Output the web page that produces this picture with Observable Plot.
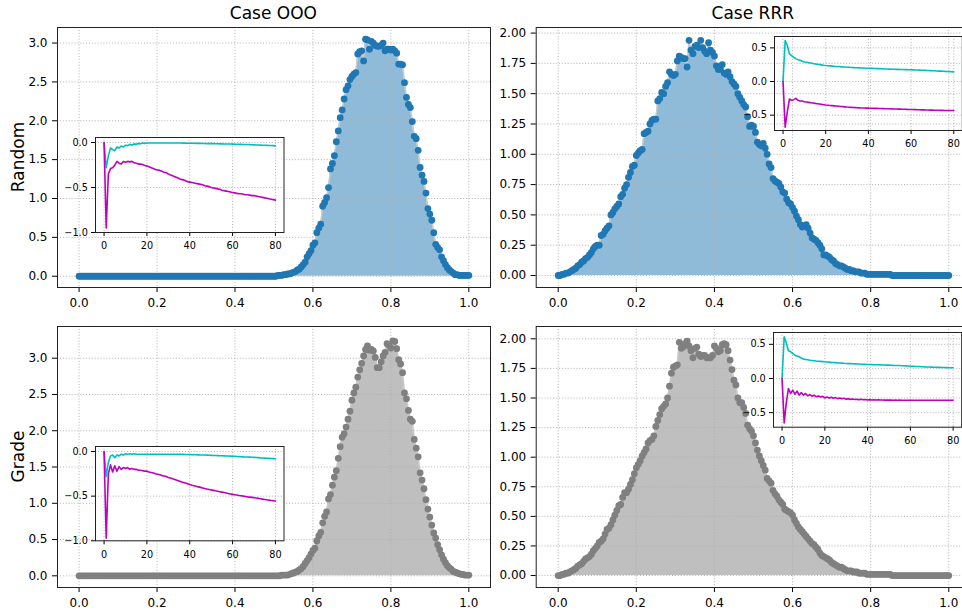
<!DOCTYPE html>
<html><head><meta charset="utf-8">
<script src="https://cdn.jsdelivr.net/npm/d3@7"></script>
<script src="https://cdn.jsdelivr.net/npm/@observablehq/plot@0.6"></script>
<style>
html,body{margin:0;padding:0;background:#fff;overflow:hidden;width:962px;height:613px}
#c{position:relative;width:962px;height:613px;overflow:hidden;font-family:"DejaVu Sans"}
.p{position:absolute}
</style>
</head><body><div id="c"></div>
<script>
// ---- data ----
const colTitles = ["Case OOO", "Case RRR"];
const rowTitles = ["Random", "Grade"];
const xTicks = [0, 0.2, 0.4, 0.6, 0.8, 1.0];
const yTicksOOO = [0, 0.5, 1.0, 1.5, 2.0, 2.5, 3.0];
const yTicksRRR = [0, 0.25, 0.5, 0.75, 1.0, 1.25, 1.5, 1.75, 2.0];
const insetXTicks = [0, 20, 40, 60, 80];
const insetYTicksLeft = [0, -0.5, -1.0];
const insetYTicksRight = [0.5, 0, -0.5];

// sample positions 0, 0.005, ..., 1 (201 samples)
const xGrid = d3.range(201).map(i => i / 200);
// step index 0..80 for insets
const tGrid = d3.range(81);

const randomOOO = [
0,0,0,0,0,0,0,0,0,0, 0,0,0,0,0,0,0,0,0,0, 0,0,0,0,0,0,0,0,0,0, 0,0,0,0,0,0,0,0,0,0, 0,0,0,0,0,0,0,0,0,0,
0,0,0,0,0,0,0,0,0,0, 0,0,0,0,0,0,0,0,0,0, 0,0,0,0,0,0,0,0,0,0, 0,0,0,0,0,0,0,0,0,0, 0,0,0,0,0,0,0,0,0,0,
0.00,0.00,0.01,0.01,0.01,0.02,0.02,0.03,0.03,0.04,
0.05,0.06,0.08,0.09,0.12,0.15,0.18,0.25,0.29,0.33,
0.40,0.43,0.56,0.62,0.67,0.90,0.95,1.01,1.14,1.38,
1.45,1.55,1.73,1.87,2.04,2.14,2.28,2.40,2.45,2.53,
2.57,2.60,2.62,2.86,2.89,2.90,2.77,3.05,3.04,2.92,
3.02,3.00,2.97,2.96,2.96,2.97,3.00,2.90,2.92,2.92,
2.91,2.92,2.90,2.87,2.73,2.73,2.72,2.49,2.30,2.21,
2.17,1.99,1.80,1.77,1.62,1.40,1.30,1.22,1.07,0.87,
0.80,0.72,0.56,0.41,0.37,0.34,0.25,0.20,0.15,0.11,
0.08,0.06,0.04,0.02,0.02,0.01,0.01,0.01,0.01,0.01,
0.01];

const gradeOOO = [
0,0,0,0,0,0,0,0,0,0, 0,0,0,0,0,0,0,0,0,0, 0,0,0,0,0,0,0,0,0,0, 0,0,0,0,0,0,0,0,0,0, 0,0,0,0,0,0,0,0,0,0,
0,0,0,0,0,0,0,0,0,0, 0,0,0,0,0,0,0,0,0,0, 0,0,0,0,0,0,0,0,0,0, 0,0,0,0,0,0,0,0,0,0, 0,0,0,0,0,0,0,0,0,0,
0.00,0.00,0.00,0.00,0.01,0.01,0.01,0.01,0.02,0.03,
0.04,0.05,0.06,0.08,0.10,0.13,0.17,0.21,0.25,0.30,
0.35,0.38,0.48,0.55,0.60,0.73,0.82,0.88,1.06,1.12,
1.25,1.36,1.45,1.62,1.78,1.91,1.96,2.05,2.16,2.27,
2.42,2.52,2.60,2.74,2.84,2.93,3.03,3.12,3.17,3.11,
3.12,3.10,3.01,2.87,2.87,2.95,3.03,3.08,3.20,3.18,
3.14,3.24,3.23,3.13,2.98,2.92,2.80,2.52,2.44,2.28,
2.16,2.13,1.88,1.76,1.64,1.42,1.32,1.20,1.05,0.92,
0.81,0.70,0.59,0.52,0.43,0.36,0.29,0.23,0.18,0.14,
0.11,0.09,0.06,0.05,0.04,0.03,0.02,0.02,0.01,0.01,
0.01];

const randomRRR = [
0.00,0.00,0.01,0.01,0.02,0.02,0.03,0.04,0.05,0.06,
0.08,0.09,0.11,0.12,0.14,0.15,0.17,0.19,0.22,0.24,
0.25,0.25,0.33,0.34,0.37,0.39,0.41,0.50,0.52,0.55,
0.57,0.59,0.65,0.67,0.72,0.75,0.81,0.85,0.90,0.91,
0.99,1.01,1.03,1.04,1.17,1.18,1.19,1.25,1.28,1.29,
1.29,1.44,1.46,1.51,1.50,1.56,1.59,1.68,1.66,1.65,
1.66,1.77,1.81,1.80,1.79,1.79,1.72,1.94,1.86,1.83,
1.89,1.90,1.88,1.94,1.88,1.85,1.83,1.92,1.86,1.84,
1.81,1.73,1.70,1.70,1.74,1.67,1.66,1.68,1.64,1.60,
1.58,1.56,1.50,1.47,1.44,1.41,1.39,1.31,1.23,1.24,
1.23,1.18,1.10,1.08,1.07,1.09,1.05,1.00,0.92,0.89,
0.80,0.78,0.77,0.76,0.73,0.69,0.68,0.63,0.60,0.59,
0.56,0.53,0.49,0.46,0.42,0.40,0.41,0.42,0.39,0.35,
0.31,0.30,0.29,0.27,0.25,0.22,0.17,0.17,0.16,0.15,
0.13,0.12,0.10,0.09,0.08,0.08,0.07,0.06,0.05,0.05,
0.04,0.04,0.03,0.03,0.03,0.02,0.02,0.02,0.01,0.01,
0.01,0.01,0.01,0.01,0.01,0.01,0.01,0.01,0.01,0.01,
0.01,0,0,0,0,0,0,0,0,0,
0,0,0,0,0,0,0,0,0,0,
0,0,0,0,0,0,0,0,0,0,
0];

const gradeRRR = [
0.00,0.00,0.01,0.01,0.02,0.02,0.03,0.04,0.05,0.06,
0.08,0.09,0.10,0.12,0.14,0.15,0.16,0.18,0.21,0.23,
0.25,0.28,0.29,0.31,0.35,0.39,0.40,0.43,0.47,0.51,
0.55,0.59,0.60,0.66,0.70,0.70,0.73,0.77,0.81,0.86,
0.91,0.94,0.97,1.01,1.04,1.07,1.12,1.14,1.15,1.18,
1.26,1.31,1.36,1.41,1.43,1.45,1.50,1.60,1.71,1.76,
1.77,1.78,1.97,1.92,1.93,1.96,1.98,1.94,1.90,1.84,
1.92,1.93,1.87,1.85,1.86,1.86,1.84,1.84,1.84,1.86,
1.94,1.92,1.89,1.90,1.95,1.96,1.95,1.90,1.82,1.74,
1.65,1.61,1.50,1.46,1.46,1.42,1.37,1.27,1.24,1.22,
1.18,1.12,1.06,1.01,0.97,0.93,0.89,0.82,0.80,0.78,
0.72,0.69,0.67,0.64,0.62,0.60,0.56,0.55,0.54,0.53,
0.51,0.47,0.44,0.41,0.39,0.37,0.35,0.33,0.31,0.29,
0.27,0.26,0.24,0.22,0.19,0.17,0.16,0.15,0.14,0.13,
0.11,0.10,0.09,0.08,0.07,0.07,0.06,0.05,0.04,0.04,
0.04,0.03,0.03,0.03,0.02,0.02,0.02,0.02,0.01,0.01,
0.01,0.01,0.01,0.01,0.01,0.01,0.01,0.01,0.01,0.01,
0.01,0,0,0,0,0,0,0,0,0,
0,0,0,0,0,0,0,0,0,0,
0,0,0,0,0,0,0,0,0,0,
0];

// insets: cyan and magenta series, steps 0..80
const insetRandomOOOCyan = [
0,-0.28,-0.15,-0.06,-0.08,-0.09,-0.05,-0.06,-0.04,-0.05,
-0.03,-0.035,-0.02,-0.03,-0.015,-0.02,-0.01,-0.015,-0.005,-0.01,
-0.005,-0.005,-0.005,-0.005,-0.005,-0.005,-0.005,-0.005,-0.005,-0.005,
-0.005,-0.005,-0.005,-0.005,-0.005,-0.006,-0.006,-0.007,-0.007,-0.008,
-0.008,-0.009,-0.009,-0.01,-0.01,-0.01,-0.011,-0.011,-0.012,-0.012,
-0.013,-0.013,-0.014,-0.014,-0.015,-0.015,-0.016,-0.016,-0.017,-0.017,
-0.018,-0.019,-0.019,-0.02,-0.021,-0.022,-0.022,-0.023,-0.024,-0.025,
-0.026,-0.027,-0.028,-0.029,-0.03,-0.031,-0.032,-0.033,-0.034,-0.035,
-0.037];
const insetRandomOOOMagenta = [
0,-0.95,-0.35,-0.29,-0.28,-0.25,-0.21,-0.23,-0.24,-0.21,
-0.22,-0.21,-0.215,-0.21,-0.225,-0.23,-0.24,-0.24,-0.245,-0.255,
-0.26,-0.27,-0.28,-0.29,-0.30,-0.305,-0.31,-0.32,-0.33,-0.335,
-0.35,-0.36,-0.37,-0.38,-0.39,-0.40,-0.41,-0.415,-0.425,-0.435,
-0.44,-0.445,-0.45,-0.455,-0.46,-0.465,-0.47,-0.48,-0.485,-0.49,
-0.50,-0.505,-0.51,-0.515,-0.52,-0.53,-0.535,-0.54,-0.545,-0.55,
-0.555,-0.56,-0.565,-0.57,-0.57,-0.575,-0.58,-0.58,-0.585,-0.59,
-0.59,-0.595,-0.60,-0.605,-0.61,-0.615,-0.62,-0.625,-0.63,-0.635,
-0.64];
const insetGradeOOOCyan = [
0,-0.28,-0.12,-0.05,-0.04,-0.07,-0.04,-0.05,-0.03,-0.04,
-0.025,-0.03,-0.025,-0.03,-0.025,-0.03,-0.03,-0.03,-0.03,-0.03,
-0.03,-0.03,-0.03,-0.03,-0.03,-0.03,-0.03,-0.03,-0.03,-0.03,
-0.03,-0.03,-0.03,-0.03,-0.03,-0.031,-0.031,-0.032,-0.033,-0.033,
-0.034,-0.035,-0.036,-0.037,-0.038,-0.039,-0.04,-0.04,-0.041,-0.042,
-0.043,-0.044,-0.045,-0.046,-0.047,-0.048,-0.049,-0.05,-0.051,-0.052,
-0.053,-0.054,-0.056,-0.057,-0.058,-0.06,-0.061,-0.062,-0.063,-0.065,
-0.066,-0.068,-0.069,-0.071,-0.072,-0.074,-0.076,-0.077,-0.079,-0.08,
-0.082];
const insetGradeOOOMagenta = [
0,-0.97,-0.25,-0.15,-0.23,-0.16,-0.22,-0.17,-0.20,-0.18,
-0.19,-0.18,-0.20,-0.19,-0.20,-0.20,-0.21,-0.21,-0.215,-0.22,
-0.22,-0.23,-0.235,-0.24,-0.25,-0.255,-0.26,-0.27,-0.275,-0.28,
-0.29,-0.298,-0.306,-0.314,-0.322,-0.33,-0.338,-0.346,-0.354,-0.362,
-0.37,-0.377,-0.383,-0.39,-0.396,-0.402,-0.408,-0.414,-0.42,-0.425,
-0.43,-0.435,-0.44,-0.445,-0.45,-0.455,-0.46,-0.465,-0.47,-0.475,
-0.48,-0.484,-0.488,-0.492,-0.496,-0.5,-0.504,-0.508,-0.511,-0.514,
-0.517,-0.521,-0.525,-0.529,-0.533,-0.537,-0.541,-0.545,-0.548,-0.551,
-0.555];
const insetRandomRRRCyan = [
0,0.61,0.535,0.41,0.385,0.36,0.34,0.325,0.315,0.30,
0.29,0.285,0.28,0.275,0.268,0.262,0.257,0.252,0.247,0.242,
0.238,0.235,0.232,0.229,0.226,0.224,0.222,0.22,0.217,0.215,
0.213,0.211,0.209,0.207,0.205,0.204,0.202,0.201,0.2,0.198,
0.197,0.196,0.195,0.193,0.192,0.191,0.19,0.188,0.187,0.185,
0.184,0.183,0.182,0.181,0.18,0.179,0.178,0.177,0.176,0.175,
0.174,0.173,0.172,0.17,0.169,0.168,0.167,0.165,0.164,0.162,
0.16,0.159,0.157,0.155,0.154,0.152,0.15,0.149,0.147,0.145,
0.143];
const insetRandomRRRMagenta = [
0,-0.68,-0.45,-0.26,-0.28,-0.27,-0.25,-0.28,-0.29,-0.29,
-0.30,-0.305,-0.31,-0.315,-0.32,-0.325,-0.33,-0.335,-0.34,-0.345,
-0.35,-0.353,-0.356,-0.359,-0.362,-0.365,-0.368,-0.371,-0.374,-0.377,
-0.38,-0.382,-0.384,-0.386,-0.388,-0.39,-0.392,-0.393,-0.394,-0.395,
-0.396,-0.397,-0.398,-0.399,-0.4,-0.401,-0.402,-0.403,-0.404,-0.405,
-0.406,-0.407,-0.408,-0.409,-0.41,-0.411,-0.412,-0.413,-0.414,-0.415,
-0.416,-0.417,-0.418,-0.419,-0.42,-0.421,-0.422,-0.423,-0.424,-0.425,
-0.426,-0.427,-0.428,-0.428,-0.429,-0.429,-0.43,-0.43,-0.43,-0.43,
-0.43];
const insetGradeRRRCyan = [
0,0.61,0.52,0.405,0.39,0.366,0.34,0.33,0.317,0.30,
0.283,0.278,0.273,0.268,0.264,0.26,0.256,0.253,0.25,0.247,
0.244,0.241,0.239,0.236,0.234,0.232,0.229,0.227,0.225,0.222,
0.22,0.218,0.217,0.215,0.214,0.212,0.211,0.209,0.207,0.206,
0.205,0.204,0.203,0.202,0.201,0.2,0.199,0.198,0.197,0.196,
0.195,0.194,0.192,0.191,0.19,0.189,0.187,0.186,0.184,0.182,
0.18,0.179,0.177,0.176,0.175,0.173,0.172,0.17,0.169,0.167,
0.166,0.165,0.164,0.163,0.162,0.161,0.16,0.159,0.158,0.157,
0.156];
const insetGradeRRRMagenta = [
0,-0.65,-0.35,-0.146,-0.22,-0.17,-0.23,-0.185,-0.244,-0.205,
-0.244,-0.22,-0.254,-0.235,-0.26,-0.245,-0.268,-0.255,-0.272,-0.262,
-0.285,-0.27,-0.288,-0.275,-0.29,-0.28,-0.295,-0.285,-0.298,-0.29,
-0.305,-0.295,-0.306,-0.3,-0.308,-0.303,-0.31,-0.305,-0.312,-0.308,
-0.314,-0.31,-0.315,-0.312,-0.316,-0.313,-0.316,-0.314,-0.317,-0.315,
-0.317,-0.316,-0.318,-0.317,-0.318,-0.317,-0.318,-0.318,-0.318,-0.318,
-0.318,-0.318,-0.318,-0.318,-0.318,-0.318,-0.318,-0.318,-0.318,-0.318,
-0.318,-0.318,-0.318,-0.318,-0.318,-0.318,-0.318,-0.318,-0.318,-0.318,
-0.318];

// ---- drawing ----
const c = document.getElementById("c");
const FONT = "DejaVu Sans";
const gridStyle = {stroke: "#b0b0b0", strokeOpacity: 1, strokeWidth: 0.9, strokeDasharray: "1.1,1.8"};
const svgStyle = {background: "transparent", overflow: "visible", maxWidth: "none", fontFamily: FONT, color: "#000"};

function place(el, left, top, w, h) {
  const d = document.createElement("div");
  d.className = "p";
  d.style.left = left + "px"; d.style.top = top + "px";
  d.style.width = w + "px"; d.style.height = h + "px";
  d.appendChild(el);
  c.appendChild(d);
}

function mainPanel(ys, o) {
  const data = ys.map((y, i) => ({x: xGrid[i], y}));
  return Plot.plot({
    width: o.w, height: o.h,
    marginLeft: o.ml, marginRight: 0, marginTop: o.mt, marginBottom: o.mb,
    style: svgStyle,
    x: {domain: o.xd, label: null},
    y: {domain: o.yd, label: null},
    marks: [
      Plot.areaY(data, {x: "x", y: "y", fill: o.color, fillOpacity: 0.5}),
      Plot.gridX(xTicks, gridStyle),
      Plot.gridY(o.yt, gridStyle),
      Plot.lineY(data, {x: "x", y: "y", stroke: "#c8c8c8", strokeWidth: 1.5}),
      Plot.dot(data, {x: "x", y: "y", r: 3.4, fill: o.color, stroke: "none"}),
      Plot.axisX(xTicks, {tickSize: 5, tickPadding: 5.5, tickFormat: d3.format(".1f"), fontSize: 12, label: null}),
      Plot.axisY(o.yt, {tickSize: 5, tickPadding: 5, tickFormat: d3.format(o.fmt), fontSize: 12, label: null}),
      Plot.frame({stroke: "#222", strokeWidth: 1})
    ]
  });
}

function insetPanel(cy, mg, o) {
  const cyan = cy.map((v, i) => ({t: tGrid[i], v}));
  const mag = mg.map((v, i) => ({t: tGrid[i], v}));
  const ml = 40, mr = 4, mt = 4, mb = 22;
  const fw = o.x1 - o.x0, fh = o.y1 - o.y0;
  const svg = Plot.plot({
    width: fw + ml + mr, height: fh + mt + mb,
    marginLeft: ml, marginRight: mr, marginTop: mt, marginBottom: mb,
    style: svgStyle,
    x: {domain: [-4, 84], label: null},
    y: {domain: o.yd, label: null},
    marks: [
      o.white ? Plot.frame({fill: "white", stroke: "none"}) : null,
      Plot.gridX(insetXTicks, gridStyle),
      Plot.gridY(o.yt, gridStyle),
      Plot.lineY(cyan, {x: "t", y: "v", stroke: "#00bfbf", strokeWidth: 1.6}),
      Plot.lineY(mag, {x: "t", y: "v", stroke: "#bf00bf", strokeWidth: 1.6}),
      Plot.axisX(insetXTicks, {tickSize: 4, tickPadding: 6, fontSize: 9.7, label: null}),
      Plot.axisY(o.yt, {tickSize: 4, tickPadding: 3.7, tickFormat: d3.format(".1f"), fontSize: 9.7, label: null}),
      Plot.frame({stroke: "#222", strokeWidth: 1})
    ]
  });
  place(svg, o.x0 - ml, o.y0 - mt, fw + ml + mr, fh + mt + mb);
}

const XD_L = [-0.0554, 1.0556], XD_R = [-0.0563, 1.0556];
place(mainPanel(randomOOO, {w: 490, h: 313, ml: 57, mt: 27, mb: 26, xd: XD_L, yd: [-0.145, 3.20], yt: yTicksOOO, fmt: ".1f", color: "#1f77b4"}), 0, 0, 490, 313);
place(mainPanel(randomRRR, {w: 490, h: 313, ml: 55.7, mt: 27, mb: 26, xd: XD_R, yd: [-0.099, 2.046], yt: yTicksRRR, fmt: ".2f", color: "#1f77b4"}), 480, 0, 490, 313);
place(mainPanel(gradeOOO, {w: 490, h: 300, ml: 57, mt: 13, mb: 26, xd: XD_L, yd: [-0.161, 3.437], yt: yTicksOOO, fmt: ".1f", color: "#808080"}), 0, 313, 490, 300);
place(mainPanel(gradeRRR, {w: 490, h: 300, ml: 55.7, mt: 13, mb: 26, xd: XD_R, yd: [-0.101, 2.104], yt: yTicksRRR, fmt: ".2f", color: "#808080"}), 480, 313, 490, 300);

insetPanel(insetRandomOOOCyan, insetRandomOOOMagenta, {x0: 95, x1: 283.5, y0: 136.7, y1: 231.7, yd: [-1.0, 0.0556], yt: insetYTicksLeft, white: true});
insetPanel(insetGradeOOOCyan, insetGradeOOOMagenta, {x0: 95, x1: 283.5, y0: 445.7, y1: 540, yd: [-1.0, 0.056], yt: insetYTicksLeft, white: true});
insetPanel(insetRandomRRRCyan, insetRandomRRRMagenta, {x0: 773.7, x1: 961.5, y0: 36, y1: 130, yd: [-0.728, 0.669], yt: insetYTicksRight, white: false});
insetPanel(insetGradeRRRCyan, insetGradeRRRMagenta, {x0: 773.3, x1: 961.5, y0: 332.3, y1: 427, yd: [-0.713, 0.673], yt: insetYTicksRight, white: false});

// titles and row labels
const ov = d3.create("svg").attr("width", 962).attr("height", 613)
  .style("position", "absolute").style("left", "0px").style("top", "0px").style("pointer-events", "none")
  .attr("font-family", FONT).attr("font-size", 17).attr("fill", "#000");
ov.append("text").attr("x", 273.4).attr("y", 19.2).attr("text-anchor", "middle").text(colTitles[0]);
ov.append("text").attr("x", 752.8).attr("y", 19.2).attr("text-anchor", "middle").text(colTitles[1]);
ov.append("text").attr("transform", "translate(23.5,157) rotate(-90)").attr("text-anchor", "middle").text(rowTitles[0]);
ov.append("text").attr("transform", "translate(23.5,456.5) rotate(-90)").attr("text-anchor", "middle").text(rowTitles[1]);
c.appendChild(ov.node());
</script>
</body></html>
